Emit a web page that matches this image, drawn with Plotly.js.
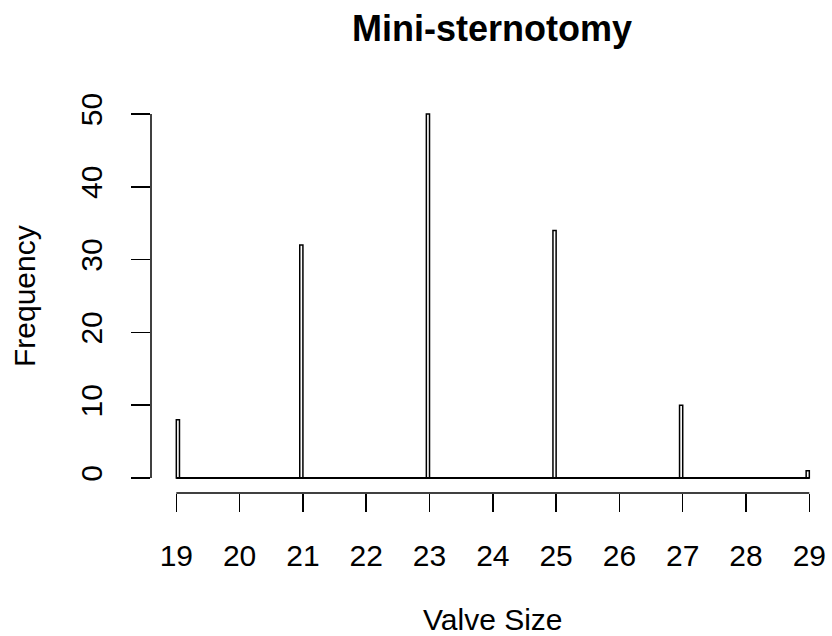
<!DOCTYPE html>
<html>
<head>
<meta charset="utf-8">
<script src="https://cdn.plot.ly/plotly-3.0.1.min.js"></script>
<style>
html,body{margin:0;padding:0;background:#fff;}
#chart{width:832px;height:636px;}
</style>
</head>
<body>
<div id="chart"></div>
<script>
// Data
const valveSizes = [19, 21, 23, 25, 27, 29];
const frequencies = [8, 32, 50, 34, 10, 1];
const binStart = 19;
const binEnd = 29;
const binWidth = 0.05;
const xTicks = [19, 20, 21, 22, 23, 24, 25, 26, 27, 28, 29];
const yTicks = [0, 10, 20, 30, 40, 50];

// right-closed bins, first bin includes the lowest value
const barCenters = valveSizes.map(v => (v === binStart ? v : v - binWidth) + binWidth / 2);

const FONT = '"Liberation Sans", Arial, sans-serif';

const traces = [
  {
    type: 'scatter',
    mode: 'lines',
    x: [binStart, binEnd],
    y: [0, 0],
    line: {color: '#000', width: 2},
    hoverinfo: 'skip',
    showlegend: false
  },
  {
    type: 'bar',
    x: barCenters,
    y: frequencies,
    width: binWidth,
    marker: {color: '#ffffff', line: {color: '#000', width: 1.5}},
    showlegend: false
  }
];

const layout = {
  width: 832,
  height: 636,
  paper_bgcolor: '#fff',
  plot_bgcolor: '#fff',
  margin: {l: 151, r: 0, t: 99, b: 143, pad: 0},
  showlegend: false,
  font: {family: FONT, color: '#000', size: 30},
  title: {
    text: '<b>Mini-sternotomy</b>',
    font: {family: FONT, size: 36, color: '#000'},
    x: 492 / 832, xanchor: 'center', xref: 'container',
    y: 1 - 28 / 636, yanchor: 'middle', yref: 'container'
  },
  xaxis: {
    range: [18.6, 18.6 + 681 / 63.3],
    tickmode: 'array',
    tickvals: xTicks,
    ticktext: xTicks.map(String),
    ticks: 'outside',
    ticklen: 18,
    tickwidth: 1.5,
    tickcolor: '#000',
    ticklabelstandoff: 18,
    showgrid: false,
    zeroline: false,
    showline: false,
    tickfont: {family: FONT, size: 30, color: '#000'}
  },
  yaxis: {
    range: [-2.06, 52.06],
    tickmode: 'array',
    tickvals: yTicks,
    ticktext: yTicks.map(String),
    ticks: 'outside',
    ticklen: 19,
    tickwidth: 1.5,
    tickcolor: '#000',
    tickangle: -90,
    ticklabelstandoff: 17,
    showgrid: false,
    zeroline: false,
    showline: false,
    tickfont: {family: FONT, size: 30, color: '#000'}
  },
  shapes: [
    {type: 'line', xref: 'x', yref: 'paper', x0: xTicks[0], x1: xTicks[xTicks.length - 1], y0: 0, y1: 0,
     line: {color: '#000', width: 1.5}},
    {type: 'line', xref: 'paper', yref: 'y', x0: 0, x1: 0, y0: yTicks[0], y1: yTicks[yTicks.length - 1],
     line: {color: '#000', width: 1.5}}
  ],
  annotations: [
    {text: 'Valve Size', xref: 'x', yref: 'paper', x: (xTicks[0] + xTicks[xTicks.length - 1]) / 2,
     y: -(619 - 493) / 394, xanchor: 'center', yanchor: 'middle', showarrow: false,
     font: {family: FONT, size: 30, color: '#000'}},
    {text: 'Frequency', xref: 'paper', yref: 'paper', x: -(151 - 24) / 681, y: 0.5,
     xanchor: 'center', yanchor: 'middle', textangle: -90, showarrow: false,
     font: {family: FONT, size: 30, color: '#000'}}
  ]
};

Plotly.newPlot('chart', traces, layout, {displayModeBar: false, staticPlot: true});
</script>
</body>
</html>
